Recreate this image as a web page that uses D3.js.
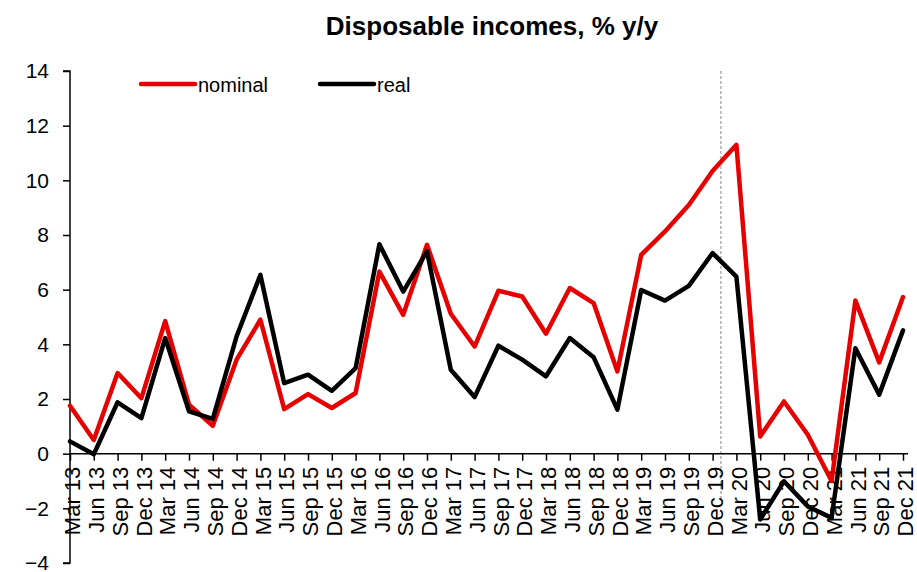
<!DOCTYPE html>
<html><head><meta charset="utf-8">
<script src="https://cdn.jsdelivr.net/npm/d3@7"></script>
<style>body{margin:0;background:#fff}svg{display:block}text{font-family:"Liberation Sans",Arial,sans-serif}</style>
</head><body><svg id="c" width="917" height="572"></svg>
<script>
const categories = ["Mar 13","Jun 13","Sep 13","Dec 13","Mar 14","Jun 14","Sep 14","Dec 14","Mar 15","Jun 15","Sep 15","Dec 15","Mar 16","Jun 16","Sep 16","Dec 16","Mar 17","Jun 17","Sep 17","Dec 17","Mar 18","Jun 18","Sep 18","Dec 18","Mar 19","Jun 19","Sep 19","Dec 19","Mar 20","Jun 20","Sep 20","Dec 20","Mar 21","Jun 21","Sep 21","Dec 21"];
const nominal = [1.75,0.5,2.95,2.03,4.85,1.79,1.02,3.44,4.9,1.63,2.18,1.67,2.22,6.66,5.08,7.64,5.12,3.92,5.96,5.75,4.39,6.06,5.51,3.01,7.27,8.13,9.1,10.34,11.3,0.63,1.91,0.69,-1.0,5.6,3.34,5.73];
const real = [0.45,-0.02,1.88,1.3,4.23,1.55,1.27,4.29,6.54,2.58,2.89,2.3,3.13,7.66,5.93,7.4,3.07,2.07,3.95,3.44,2.83,4.23,3.53,1.61,5.99,5.6,6.14,7.34,6.48,-2.41,-1.01,-1.93,-2.35,3.86,2.16,4.51];
const yTicks = [-4,-2,0,2,4,6,8,10,12,14];
const seriesNames = ["nominal","real"];
const seriesColors = ["#e60000","#000000"];
const markerPos = 27.35; // dashed separator between Dec 19 and Mar 20 (category index units)

const svg = d3.select("#c");
const x0 = 70, x1 = 903, yTop = 71, yBot = 563;
const x = d3.scalePoint().domain(categories).range([x0, x1]);
const step = x.step();
const y = d3.scaleLinear().domain([-4, 14]).range([yBot, yTop]);

// title
svg.append("text").attr("x", 492).attr("y", 35).attr("text-anchor","middle")
  .style("font-size","26px").style("font-weight","bold").text("Disposable incomes, % y/y");

// dashed separator
const xm = x0 + markerPos*step;
svg.append("line").attr("x1",xm).attr("x2",xm).attr("y1",y(14)).attr("y2",y(-1.7))
  .attr("stroke","#888").attr("stroke-width",1).attr("stroke-dasharray","3,2");

// y axis
const yAxis = svg.append("g").attr("transform",`translate(${x0},0)`)
  .call(d3.axisLeft(y).tickValues(yTicks).tickSize(7).tickPadding(14).tickFormat(d3.format("d")));
yAxis.select(".domain").attr("stroke","#000").attr("stroke-width",1.5).attr("d",`M-7,${y(14)}H0V${y(-4)}H-7`);
yAxis.selectAll(".tick line").attr("stroke","#000").attr("stroke-width",1.5);
yAxis.selectAll("text").style("font-size","21px").attr("fill","#000").attr("dy","0.33em");

// x axis at 0
const xAxis = svg.append("g").attr("transform",`translate(0,${y(0)})`)
  .call(d3.axisBottom(x).tickSize(7).tickPadding(4));
xAxis.select(".domain").attr("stroke","#000").attr("stroke-width",1.5).attr("d",`M${x0},0H${x1+5}`);
xAxis.selectAll(".tick line").attr("stroke","#000").attr("stroke-width",1.5);
xAxis.selectAll("text").style("font-size","22px").attr("fill","#000")
  .attr("text-anchor","end").attr("transform","rotate(-90)").attr("x",-13).attr("y",2).attr("dy","0.35em");

// lines
const line = d3.line().x((d,i)=>x(categories[i])).y(d=>y(d));
[nominal, real].forEach((s,k)=>{
  svg.append("path").datum(s).attr("d",line).attr("fill","none")
    .attr("stroke",seriesColors[k]).attr("stroke-width",4.5).attr("stroke-linejoin","round").attr("stroke-linecap","round");
});

// legend
const legX = [141, 320];
seriesNames.forEach((n,k)=>{
  svg.append("line").attr("x1",legX[k]).attr("x2",legX[k]+54).attr("y1",84).attr("y2",84)
    .attr("stroke",seriesColors[k]).attr("stroke-width",4.5).attr("stroke-linecap","round");
  svg.append("text").attr("x",legX[k]+57).attr("y",92).style("font-size","20px").text(n);
});
</script></body></html>
